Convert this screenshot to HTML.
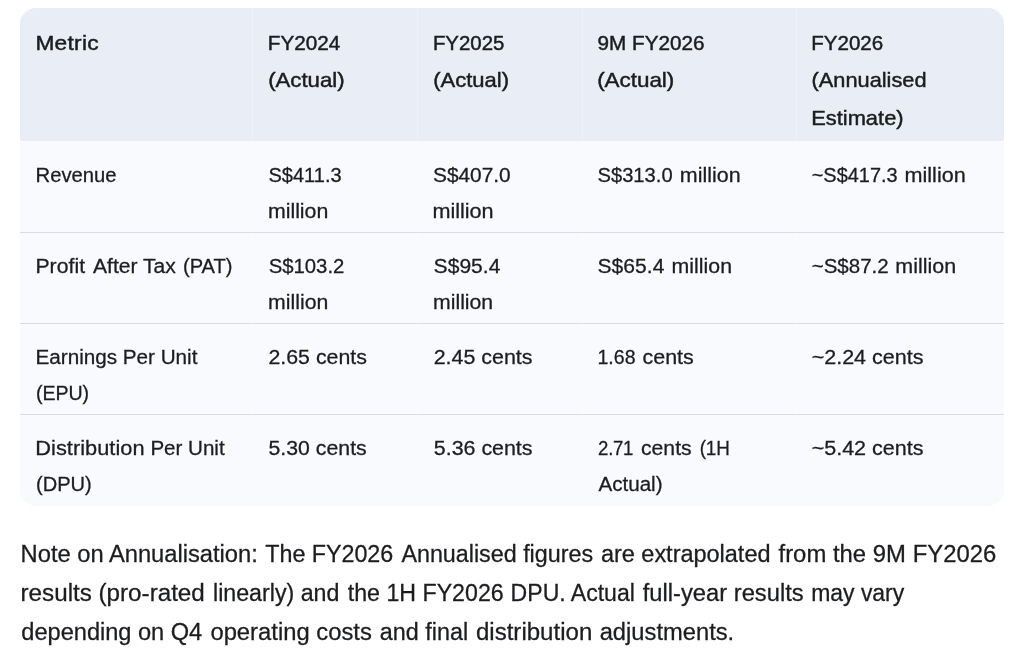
<!DOCTYPE html>
<html lang="en"><head><meta charset="utf-8"><title>Financial metrics table</title>
<style>
html,body{margin:0;padding:0;background:#fff;}
body{width:1024px;height:658px;position:relative;overflow:hidden;font-family:"Liberation Sans",sans-serif;color:#1f1f1f;}
.tbl{position:absolute;left:20px;top:8px;width:984px;height:498px;border-radius:16px;overflow:hidden;background:#f8fafd;}
.hd{position:absolute;left:0;top:0;width:984px;height:133px;background:#e9eef6;}

.txt{position:absolute;left:0;top:0;width:1024px;height:658px;will-change:transform;}
.ln{position:absolute;left:0;width:984px;height:1px;background:#d9dce2;}
.vl{position:absolute;top:0;width:1px;height:498px;background:rgba(255,255,255,0.28);}
.t{position:absolute;left:0;top:0;white-space:nowrap;line-height:30px;height:30px;transform-origin:0 0;}
.h{font-size:20.3px;-webkit-text-stroke:0.45px #1b1c1d;color:#1b1c1d;}
.b{font-size:20px;color:#1c1d1f;-webkit-text-stroke:0.28px #1c1d1f;}
.n{font-size:23.3px;color:#1c1d1f;-webkit-text-stroke:0.28px #1c1d1f;}
</style></head><body>
<div class="tbl">
<div class="hd"></div>
<div class="ln" style="top:224px"></div>
<div class="ln" style="top:315px"></div>
<div class="ln" style="top:406px"></div>
<div class="vl" style="left:232px"></div>
<div class="vl" style="left:397px"></div>
<div class="vl" style="left:562px"></div>
<div class="vl" style="left:776px"></div>
</div>
<div class="txt">
<span class="t h" style="letter-spacing:0.243px;transform:translate(35.38px,27.98px) scaleX(1.1200)">Metric</span>
<span class="t h" style="letter-spacing:-0.008px;transform:translate(267.79px,27.98px) scaleX(1.0208)">FY2024</span>
<span class="t h" style="letter-spacing:-0.005px;transform:translate(268.15px,64.98px) scaleX(1.0940)">(Actual)</span>
<span class="t h" style="letter-spacing:-0.008px;transform:translate(432.90px,27.98px) scaleX(1.0067)">FY2025</span>
<span class="t h" style="letter-spacing:0.021px;transform:translate(433.15px,64.98px) scaleX(1.0842)">(Actual)</span>
<span class="t h" style="letter-spacing:-0.005px;transform:translate(597.50px,27.98px) scaleX(1.0209)">9M FY2026</span>
<span class="t h" style="letter-spacing:-0.031px;transform:translate(597.15px,64.98px) scaleX(1.1071)">(Actual)</span>
<span class="t h" style="letter-spacing:0.016px;transform:translate(811.17px,27.98px) scaleX(1.0127)">FY2026</span>
<span class="t h" style="letter-spacing:0.011px;transform:translate(811.51px,64.98px) scaleX(1.0732)">(Annualised</span>
<span class="t h" style="letter-spacing:0.014px;transform:translate(811.13px,102.98px) scaleX(1.0780)">Estimate)</span>
<span class="t b" style="letter-spacing:-0.007px;transform:translate(35.54px,160.08px) scaleX(1.0117)">Revenue</span>
<span class="t b" style="letter-spacing:0.007px;transform:translate(268.42px,160.08px) scaleX(1.0013)">S$411.3</span>
<span class="t b" style="letter-spacing:-0.013px;transform:translate(267.95px,196.08px) scaleX(1.0661)">million</span>
<span class="t b" style="letter-spacing:-0.006px;transform:translate(432.97px,160.08px) scaleX(1.0430)">S$407.0</span>
<span class="t b" style="letter-spacing:-0.037px;transform:translate(432.54px,196.08px) scaleX(1.0806)">million</span>
<span class="t b" style="letter-spacing:0.013px;transform:translate(597.44px,160.08px) scaleX(1.0083)">S$313.0</span>
<span class="t b" style="letter-spacing:0.019px;transform:translate(679.86px,160.08px) scaleX(1.0719)">million</span>
<span class="t b" style="letter-spacing:0.017px;transform:translate(811.69px,160.08px) scaleX(0.9959)">~S$417.3</span>
<span class="t b" style="letter-spacing:-0.006px;transform:translate(904.54px,160.08px) scaleX(1.0800)">million</span>
<span class="t b" style="letter-spacing:0.053px;transform:translate(35.43px,251.08px) scaleX(1.0598)">Profit</span>
<span class="t b" style="letter-spacing:-0.005px;transform:translate(93.04px,251.08px) scaleX(1.0529)">After Tax</span>
<span class="t b" style="letter-spacing:0.020px;transform:translate(182.96px,251.08px) scaleX(1.0043)">(PAT)</span>
<span class="t b" style="letter-spacing:-0.007px;transform:translate(268.63px,251.08px) scaleX(1.0170)">S$103.2</span>
<span class="t b" style="letter-spacing:0.044px;transform:translate(267.95px,287.08px) scaleX(1.0619)">million</span>
<span class="t b" style="letter-spacing:0.030px;transform:translate(433.56px,251.08px) scaleX(1.0529)">S$95.4</span>
<span class="t b" style="letter-spacing:-0.006px;transform:translate(433.06px,287.08px) scaleX(1.0610)">million</span>
<span class="t b" style="letter-spacing:0.068px;transform:translate(597.44px,251.08px) scaleX(1.0517)">S$65.4</span>
<span class="t b" style="letter-spacing:0.031px;transform:translate(671.52px,251.08px) scaleX(1.0646)">million</span>
<span class="t b" style="letter-spacing:0.007px;transform:translate(811.69px,251.08px) scaleX(1.0245)">~S$87.2</span>
<span class="t b" style="letter-spacing:0.019px;transform:translate(895.36px,251.08px) scaleX(1.0719)">million</span>
<span class="t b" style="letter-spacing:-0.002px;transform:translate(35.55px,342.08px) scaleX(1.0329)">Earnings Per Unit</span>
<span class="t b" style="letter-spacing:-0.061px;transform:translate(36.05px,378.08px) scaleX(0.9791)">(EPU)</span>
<span class="t b" style="letter-spacing:-0.004px;transform:translate(268.50px,342.08px) scaleX(1.0656)">2.65 cents</span>
<span class="t b" style="letter-spacing:-0.004px;transform:translate(433.69px,342.08px) scaleX(1.0714)">2.45 cents</span>
<span class="t b" style="letter-spacing:0.000px;transform:translate(597.49px,342.08px) scaleX(0.9770)">1.68</span>
<span class="t b" style="letter-spacing:-0.037px;transform:translate(642.60px,342.08px) scaleX(1.0721)">cents</span>
<span class="t b" style="letter-spacing:-0.004px;transform:translate(811.67px,342.08px) scaleX(1.0757)">~2.24 cents</span>
<span class="t b" style="letter-spacing:0.020px;transform:translate(35.33px,433.08px) scaleX(1.0890)">Distribution</span>
<span class="t b" style="letter-spacing:-0.022px;transform:translate(150.38px,433.08px) scaleX(1.0297)">Per Unit</span>
<span class="t b" style="letter-spacing:0.040px;transform:translate(35.93px,469.08px) scaleX(1.0027)">(DPU)</span>
<span class="t b" style="letter-spacing:0.017px;transform:translate(268.50px,433.08px) scaleX(1.0629)">5.30 cents</span>
<span class="t b" style="letter-spacing:-0.025px;transform:translate(433.85px,433.08px) scaleX(1.0715)">5.36 cents</span>
<span class="t b" style="letter-spacing:-0.330px;transform:translate(598.12px,433.08px) scaleX(0.9300)">2.71</span>
<span class="t b" style="letter-spacing:0.019px;transform:translate(640.98px,433.08px) scaleX(1.0581)">cents</span>
<span class="t b" style="letter-spacing:-0.085px;transform:translate(699.66px,433.08px) scaleX(0.9415)">(1H</span>
<span class="t b" style="letter-spacing:-0.006px;transform:translate(598.42px,469.08px) scaleX(1.0308)">Actual)</span>
<span class="t b" style="letter-spacing:-0.004px;transform:translate(811.67px,433.08px) scaleX(1.0757)">~5.42 cents</span>
<span class="t n" style="letter-spacing:-0.009px;transform:translate(20.62px,538.94px) scaleX(1.0183)">Note on Annualisation:</span>
<span class="t n" style="letter-spacing:-0.027px;transform:translate(265.25px,538.94px) scaleX(1.0000)">The FY2026</span>
<span class="t n" style="letter-spacing:-0.002px;transform:translate(401.40px,538.94px) scaleX(1.0000)">Annualised figures</span>
<span class="t n" style="letter-spacing:-0.003px;transform:translate(600.90px,538.94px) scaleX(1.0075)">are extrapolated</span>
<span class="t n" style="letter-spacing:0.009px;transform:translate(778.50px,538.94px) scaleX(1.0249)">from the 9M FY2026</span>
<span class="t n" style="letter-spacing:-0.007px;transform:translate(20.56px,577.94px) scaleX(1.0393)">results (pro-rated</span>
<span class="t n" style="letter-spacing:-0.003px;transform:translate(213.00px,577.94px) scaleX(0.9960)">linearly) and</span>
<span class="t n" style="letter-spacing:-0.003px;transform:translate(347.75px,577.94px) scaleX(0.9952)">the 1H FY2026</span>
<span class="t n" style="letter-spacing:-0.004px;transform:translate(510.60px,577.94px) scaleX(0.9898)">DPU. Actual</span>
<span class="t n" style="letter-spacing:0.010px;transform:translate(642.75px,577.94px) scaleX(1.0175)">full-year results</span>
<span class="t n" style="letter-spacing:-0.029px;transform:translate(811.25px,577.94px) scaleX(0.9860)">may vary</span>
<span class="t n" style="letter-spacing:-0.023px;transform:translate(21.36px,616.94px) scaleX(1.0133)">depending on Q4</span>
<span class="t n" style="letter-spacing:0.011px;transform:translate(210.40px,616.94px) scaleX(1.0208)">operating costs</span>
<span class="t n" style="letter-spacing:0.020px;transform:translate(379.65px,616.94px) scaleX(1.0030)">and final</span>
<span class="t n" style="letter-spacing:0.014px;transform:translate(475.90px,616.94px) scaleX(1.0317)">distribution</span>
<span class="t n" style="letter-spacing:0.014px;transform:translate(599.65px,616.94px) scaleX(1.0175)">adjustments.</span>
</div>
</body></html>
